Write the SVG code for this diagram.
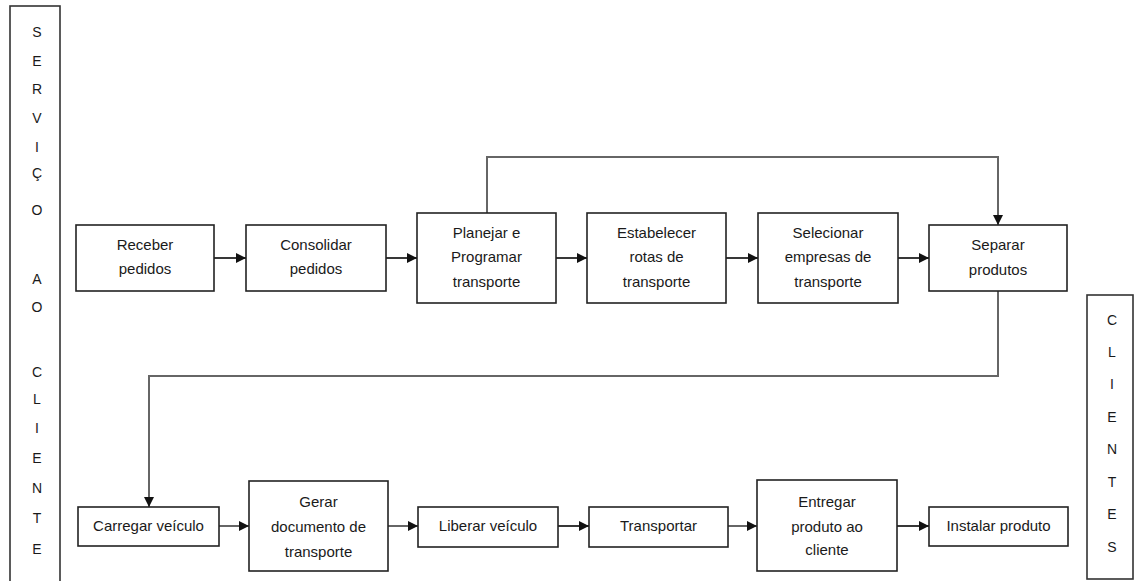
<svg xmlns="http://www.w3.org/2000/svg" width="1134" height="581" viewBox="0 0 1134 581">
<style>
.box{fill:#fff;stroke:#222;stroke-width:1.6}
.side{fill:#fff;stroke:#333;stroke-width:1.6}
.t{font-family:"Liberation Sans",Arial,sans-serif;font-size:15px;fill:#1a1a1a;text-anchor:middle}
.v{font-family:"Liberation Sans",Arial,sans-serif;font-size:14px;fill:#1a1a1a;text-anchor:middle}
.c{fill:none;stroke:#222;stroke-width:1.8}
.g{fill:none;stroke:#666;stroke-width:2}
</style>
<defs>
<marker id="ah" markerUnits="userSpaceOnUse" markerWidth="10" markerHeight="10" refX="10" refY="5" orient="auto">
<path d="M0,0 L10,5 L0,10 z" fill="#111"/>
</marker>
</defs>
<rect width="1134" height="581" fill="#fff"/>

<g id="servico-cliente">
<rect class="side" x="10" y="6" width="50" height="590"/>
<text class="v" x="37" y="37">S</text>
<text class="v" x="37" y="66">E</text>
<text class="v" x="37" y="94">R</text>
<text class="v" x="37" y="123">V</text>
<text class="v" x="37" y="152">I</text>
<text class="v" x="37" y="178">Ç</text>
<text class="v" x="37" y="215">O</text>
<text class="v" x="37" y="284">A</text>
<text class="v" x="37" y="312">O</text>
<text class="v" x="37" y="377">C</text>
<text class="v" x="37" y="404">L</text>
<text class="v" x="37" y="433">I</text>
<text class="v" x="37" y="463">E</text>
<text class="v" x="37" y="493">N</text>
<text class="v" x="37" y="523">T</text>
<text class="v" x="37" y="554">E</text>
</g>

<g id="clientes">
<rect class="side" x="1087" y="295" width="46" height="284"/>
<text class="v" x="1112" y="325">C</text>
<text class="v" x="1112" y="357">L</text>
<text class="v" x="1112" y="389">I</text>
<text class="v" x="1112" y="422">E</text>
<text class="v" x="1112" y="454">N</text>
<text class="v" x="1112" y="487">T</text>
<text class="v" x="1112" y="519">E</text>
<text class="v" x="1112" y="552">S</text>
</g>

<g id="connectors">
<path class="c" d="M214,258 H246" marker-end="url(#ah)"/>
<path class="c" d="M386,258 H417" marker-end="url(#ah)"/>
<path class="c" d="M556,258 H587" marker-end="url(#ah)"/>
<path class="c" d="M726,258 H758" marker-end="url(#ah)"/>
<path class="c" d="M898,258 H929" marker-end="url(#ah)"/>
<path class="g" d="M487,213 V157 H998 V225" marker-end="url(#ah)"/>
<path class="g" d="M998,291 V376 H149 V507" marker-end="url(#ah)"/>
<path class="g" d="M219,526 H249" marker-end="url(#ah)"/>
<path class="g" d="M388,526 H418" marker-end="url(#ah)"/>
<path class="c" d="M558,526 H589" marker-end="url(#ah)"/>
<path class="g" d="M728,526 H757" marker-end="url(#ah)"/>
<path class="c" d="M897,526 H929" marker-end="url(#ah)"/>
</g>

<g id="receber-pedidos">
<rect class="box" x="76" y="225" width="138" height="66"/>
<text class="t" x="145" y="250">Receber</text>
<text class="t" x="145" y="274">pedidos</text>
</g>
<g id="consolidar-pedidos">
<rect class="box" x="246" y="225" width="140" height="66"/>
<text class="t" x="316" y="250">Consolidar</text>
<text class="t" x="316" y="274">pedidos</text>
</g>
<g id="planejar">
<rect class="box" x="417" y="213" width="139" height="90"/>
<text class="t" x="486.500" y="238">Planejar e</text>
<text class="t" x="486.500" y="262">Programar</text>
<text class="t" x="486.500" y="287">transporte</text>
</g>
<g id="estabelecer">
<rect class="box" x="587" y="213" width="139" height="90"/>
<text class="t" x="656.500" y="238">Estabelecer</text>
<text class="t" x="656.500" y="262">rotas de</text>
<text class="t" x="656.500" y="287">transporte</text>
</g>
<g id="selecionar">
<rect class="box" x="758" y="213" width="140" height="90"/>
<text class="t" x="828" y="238">Selecionar</text>
<text class="t" x="828" y="262">empresas de</text>
<text class="t" x="828" y="287">transporte</text>
</g>
<g id="separar">
<rect class="box" x="929" y="225" width="138" height="66"/>
<text class="t" x="998" y="250">Separar</text>
<text class="t" x="998" y="275">produtos</text>
</g>

<g id="carregar">
<rect class="box" x="78" y="507" width="141" height="39"/>
<text class="t" x="148.500" y="531">Carregar veículo</text>
</g>
<g id="gerar">
<rect class="box" x="249" y="481" width="139" height="90"/>
<text class="t" x="318.500" y="507">Gerar</text>
<text class="t" x="318.500" y="532">documento de</text>
<text class="t" x="318.500" y="557">transporte</text>
</g>
<g id="liberar">
<rect class="box" x="418" y="507" width="140" height="40"/>
<text class="t" x="488" y="531">Liberar veículo</text>
</g>
<g id="transportar">
<rect class="box" x="589" y="507" width="139" height="40"/>
<text class="t" x="658.500" y="531">Transportar</text>
</g>
<g id="entregar">
<rect class="box" x="757" y="480" width="140" height="91"/>
<text class="t" x="827" y="507">Entregar</text>
<text class="t" x="827" y="532">produto ao</text>
<text class="t" x="827" y="555">cliente</text>
</g>
<g id="instalar">
<rect class="box" x="929" y="507" width="139" height="39"/>
<text class="t" x="998.500" y="531">Instalar produto</text>
</g>
</svg>
